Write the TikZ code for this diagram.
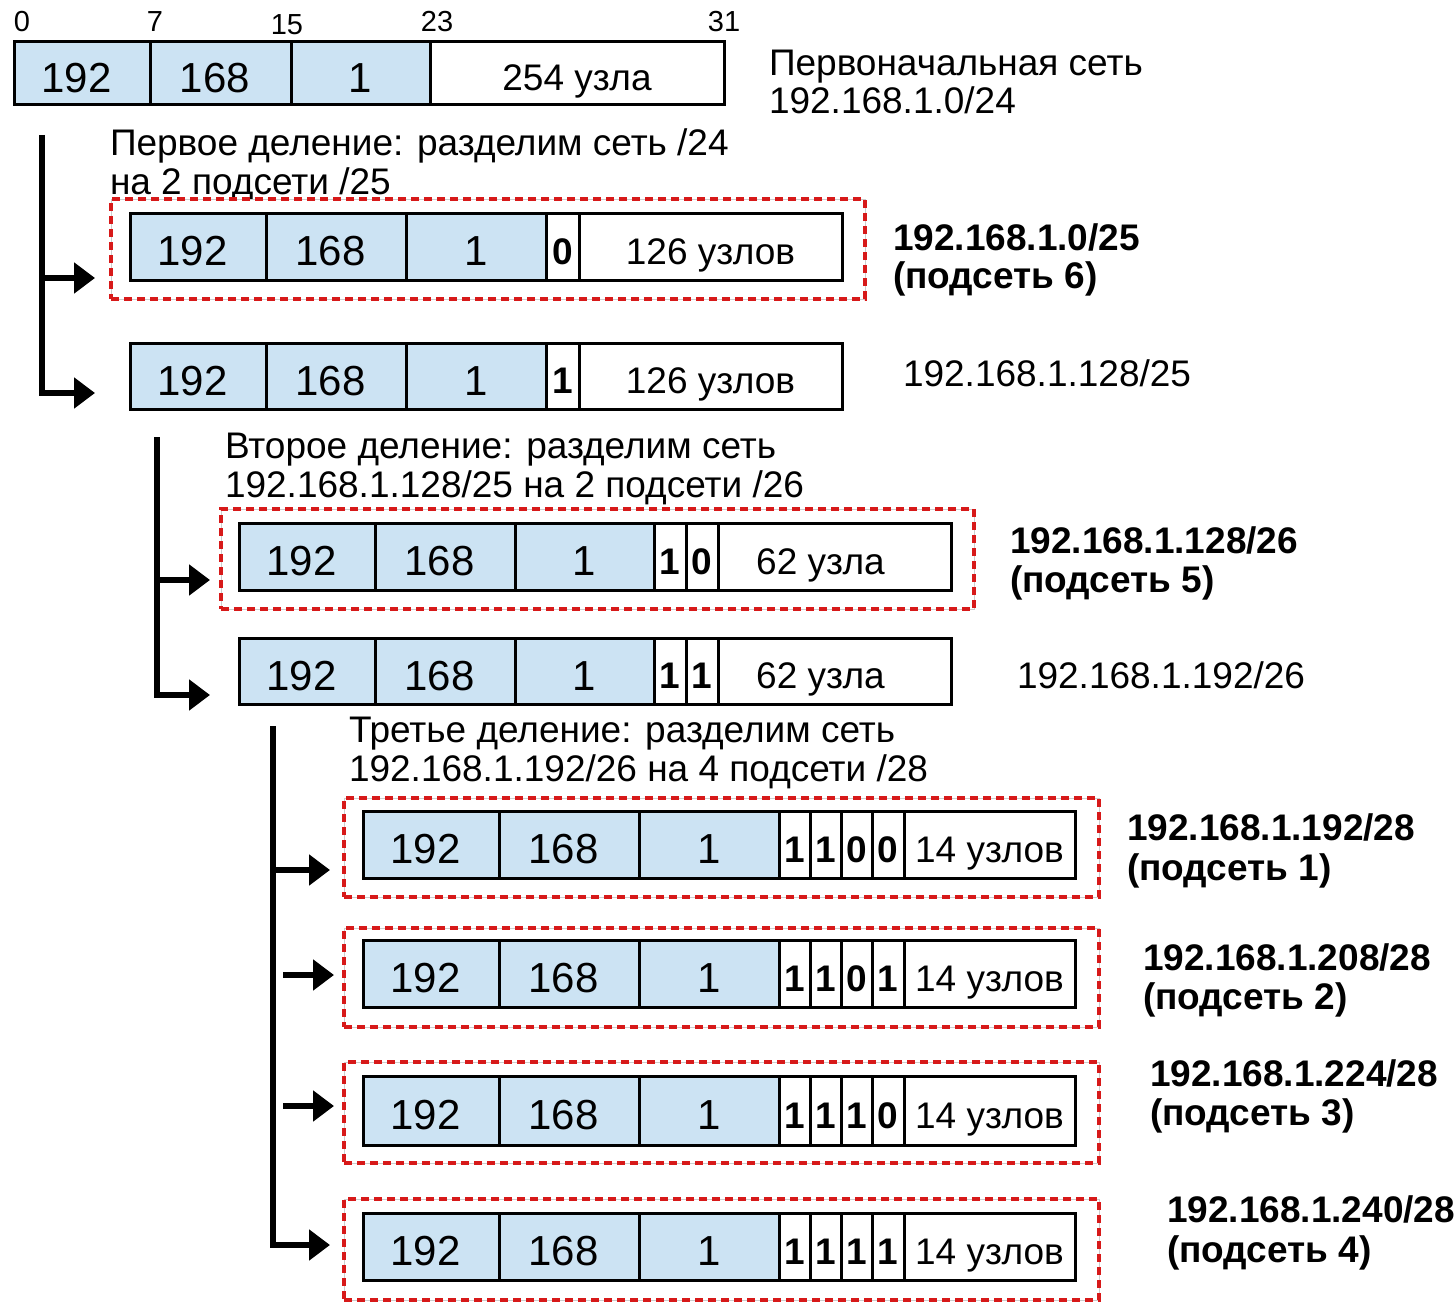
\documentclass[tikz,border=0pt]{standalone}
\usepackage{fontspec}
\setmainfont{Liberation Sans}
\usetikzlibrary{arrows.meta}
\definecolor{ipblue}{RGB}{204,227,243}
\definecolor{dashred}{RGB}{215,25,25}
\newcommand\ipcell[7]{\node[#6,minimum width={(#3-#2)*1pt},minimum height={(#5-#4)*1pt}] (#1) at ({(#2+#3)/2},{(#4+#5)/2}) {#7};}
\newcommand\ipframe[5]{\node[dframe,minimum width={(#3-#2)*1pt},minimum height={(#5-#4)*1pt}] (#1) at ({(#2+#3)/2},{(#4+#5)/2}) {};}
\tikzset{
  every node/.style={inner sep=0pt,outer sep=0pt},
  octet/.style={draw,line width=3pt,fill=ipblue,font=\fontsize{42}{46}\selectfont,text height=38pt,text depth=0pt},
  octl/.style={octet,execute at end node={\hspace*{11pt}}},
  bitcell/.style={draw,line width=3pt,fill=white,font=\bfseries\fontsize{37}{40}\selectfont,text height=35pt,text depth=0pt},
  hostcell/.style={draw,line width=3pt,fill=white,font=\fontsize{37}{40}\selectfont,text height=35pt,text depth=0pt},
  hostl/.style={hostcell,execute at end node={\hspace*{28pt}}},
  lbl/.style={anchor=base west,font=\fontsize{37}{40}\selectfont},
  blbl/.style={anchor=base west,font=\bfseries\fontsize{37}{40}\selectfont},
  bitno/.style={anchor=base,font=\fontsize{29}{32}\selectfont},
  dframe/.style={draw=gray!40,line width=0.8pt,fill=white,postaction={draw=dashred,line width=3.2pt,dash pattern=on 8pt off 5pt}},
  conn/.style={line width=6pt,line join=miter,-{Triangle[length=21pt,width=30pt]}},
}
\begin{document}
\begin{tikzpicture}[x=1pt,y=-1pt]
\useasboundingbox (0,0) rectangle (1456,1303);
\fill[white] (0,0) rectangle (1456,1303);

% bit numbers
\node[bitno] (n0) at (22,32) {0};
\node[bitno] (n7) at (155,32) {7};
\node[bitno] (n15) at (287,35) {15};
\node[bitno] (n23) at (437,32) {23};
\node[bitno] (n31) at (724,32) {31};

% original network
\ipcell{r0a}{14}{150}{42}{105}{octl}{192}
\ipcell{r0b}{150}{291}{42}{105}{octl}{168}
\ipcell{r0c}{291}{430}{42}{105}{octet}{1}
\ipcell{r0h}{430}{724}{42}{105}{hostcell}{254 узла}
\node[lbl] (l0a) at (769,76) {Первоначальная сеть};
\node[lbl] (l0b) at (769,114) {192.168.1.0/24};

% first division
\node[lbl] (t1a) at (110,156) {Первое деление: разделим сеть /24};
\node[lbl] (t1b) at (110,194) {на 2 подсети /25};
\ipframe{f1}{111}{865}{199}{299}
\ipcell{r1a}{130}{266}{213}{280}{octl}{192}
\ipcell{r1b}{266}{406}{213}{280}{octl}{168}
\ipcell{r1c}{406}{546}{213}{280}{octet}{1}
\ipcell{r1d}{546}{579}{213}{280}{bitcell}{0}
\ipcell{r1h}{579}{842}{213}{280}{hostcell}{126 узлов}
\node[blbl] (l1a) at (893,250) {192.168.1.0/25};
\node[blbl] (l1b) at (893,288) {(подсеть 6)};

\ipcell{r2a}{130}{266}{343}{409}{octl}{192}
\ipcell{r2b}{266}{406}{343}{409}{octl}{168}
\ipcell{r2c}{406}{546}{343}{409}{octet}{1}
\ipcell{r2d}{546}{579}{343}{409}{bitcell}{1}
\ipcell{r2h}{579}{842}{343}{409}{hostcell}{126 узлов}
\node[lbl] (l2a) at (903,386) {192.168.1.128/25};

% second division
\node[lbl] (t2a) at (225,458) {Второе деление: разделим сеть};
\node[lbl] (t2b) at (225,497) {192.168.1.128/25 на 2 подсети /26};
\ipframe{f3}{221}{974}{509}{609}
\ipcell{r3a}{239}{375}{523}{590}{octl}{192}
\ipcell{r3b}{375}{515}{523}{590}{octl}{168}
\ipcell{r3c}{515}{654}{523}{590}{octet}{1}
\ipcell{r3d}{654}{686}{523}{590}{bitcell}{1}
\ipcell{r3e}{686}{718}{523}{590}{bitcell}{0}
\ipcell{r3h}{718}{951}{523}{590}{hostl}{62 узла}
\node[blbl] (l3a) at (1010,553) {192.168.1.128/26};
\node[blbl] (l3b) at (1010,592) {(подсеть 5)};

\ipcell{r4a}{239}{375}{638}{704}{octl}{192}
\ipcell{r4b}{375}{515}{638}{704}{octl}{168}
\ipcell{r4c}{515}{654}{638}{704}{octet}{1}
\ipcell{r4d}{654}{686}{638}{704}{bitcell}{1}
\ipcell{r4e}{686}{718}{638}{704}{bitcell}{1}
\ipcell{r4h}{718}{951}{638}{704}{hostl}{62 узла}
\node[lbl] (l4a) at (1017,688) {192.168.1.192/26};

% third division
\node[lbl] (t3a) at (349,742) {Третье деление: разделим сеть};
\node[lbl] (t3b) at (349,781) {192.168.1.192/26 на 4 подсети /28};

\ipframe{f5}{344}{1099}{798}{897}
\ipcell{r5a}{363}{499}{811}{878}{octl}{192}
\ipcell{r5b}{499}{639}{811}{878}{octl}{168}
\ipcell{r5c}{639}{779}{811}{878}{octet}{1}
\ipcell{r5d}{779}{810}{811}{878}{bitcell}{1}
\ipcell{r5e}{810}{841}{811}{878}{bitcell}{1}
\ipcell{r5f}{841}{872}{811}{878}{bitcell}{0}
\ipcell{r5g}{872}{904}{811}{878}{bitcell}{0}
\ipcell{r5h}{904}{1075}{811}{878}{hostcell}{14 узлов}
\node[blbl] (l5a) at (1127,840) {192.168.1.192/28};
\node[blbl] (l5b) at (1127,880) {(подсеть 1)};

\ipframe{f6}{344}{1099}{928}{1027}
\ipcell{r6a}{363}{499}{940}{1007}{octl}{192}
\ipcell{r6b}{499}{639}{940}{1007}{octl}{168}
\ipcell{r6c}{639}{779}{940}{1007}{octet}{1}
\ipcell{r6d}{779}{810}{940}{1007}{bitcell}{1}
\ipcell{r6e}{810}{841}{940}{1007}{bitcell}{1}
\ipcell{r6f}{841}{872}{940}{1007}{bitcell}{0}
\ipcell{r6g}{872}{904}{940}{1007}{bitcell}{1}
\ipcell{r6h}{904}{1075}{940}{1007}{hostcell}{14 узлов}
\node[blbl] (l6a) at (1143,970) {192.168.1.208/28};
\node[blbl] (l6b) at (1143,1009) {(подсеть 2)};

\ipframe{f7}{344}{1099}{1062}{1163}
\ipcell{r7a}{363}{499}{1076}{1145}{octl}{192}
\ipcell{r7b}{499}{639}{1076}{1145}{octl}{168}
\ipcell{r7c}{639}{779}{1076}{1145}{octet}{1}
\ipcell{r7d}{779}{810}{1076}{1145}{bitcell}{1}
\ipcell{r7e}{810}{841}{1076}{1145}{bitcell}{1}
\ipcell{r7f}{841}{872}{1076}{1145}{bitcell}{1}
\ipcell{r7g}{872}{904}{1076}{1145}{bitcell}{0}
\ipcell{r7h}{904}{1075}{1076}{1145}{hostcell}{14 узлов}
\node[blbl] (l7a) at (1150,1086) {192.168.1.224/28};
\node[blbl] (l7b) at (1150,1125) {(подсеть 3)};

\ipframe{f8}{344}{1099}{1199}{1300}
\ipcell{r8a}{363}{499}{1213}{1280}{octl}{192}
\ipcell{r8b}{499}{639}{1213}{1280}{octl}{168}
\ipcell{r8c}{639}{779}{1213}{1280}{octet}{1}
\ipcell{r8d}{779}{810}{1213}{1280}{bitcell}{1}
\ipcell{r8e}{810}{841}{1213}{1280}{bitcell}{1}
\ipcell{r8f}{841}{872}{1213}{1280}{bitcell}{1}
\ipcell{r8g}{872}{904}{1213}{1280}{bitcell}{1}
\ipcell{r8h}{904}{1075}{1213}{1280}{hostcell}{14 узлов}
\node[blbl] (l8a) at (1167,1222) {192.168.1.240/28};
\node[blbl] (l8b) at (1167,1262) {(подсеть 4)};

% connectors
\coordinate (b1top) at (42,135);
\coordinate (b1mid) at (42,278);
\coordinate (a1) at (95,278);
\coordinate (a2) at (95,393);
\draw[conn] (b1top) |- (a2);
\draw[conn] (b1mid) -- (a1);

\coordinate (b2top) at (157,437);
\coordinate (b2mid) at (157,580);
\coordinate (a3) at (210,580);
\coordinate (a4) at (210,695);
\draw[conn] (b2top) |- (a4);
\draw[conn] (b2mid) -- (a3);

\coordinate (b3top) at (273,726);
\coordinate (b3mid) at (273,870);
\coordinate (a5) at (330,870);
\coordinate (s6) at (283,975);
\coordinate (a6) at (334,975);
\coordinate (s7) at (283,1106);
\coordinate (a7) at (334,1106);
\coordinate (a8) at (330,1245);
\draw[conn] (b3top) |- (a8);
\draw[conn] (b3mid) -- (a5);
\draw[conn] (s6) -- (a6);
\draw[conn] (s7) -- (a7);
\end{tikzpicture}
\end{document}
